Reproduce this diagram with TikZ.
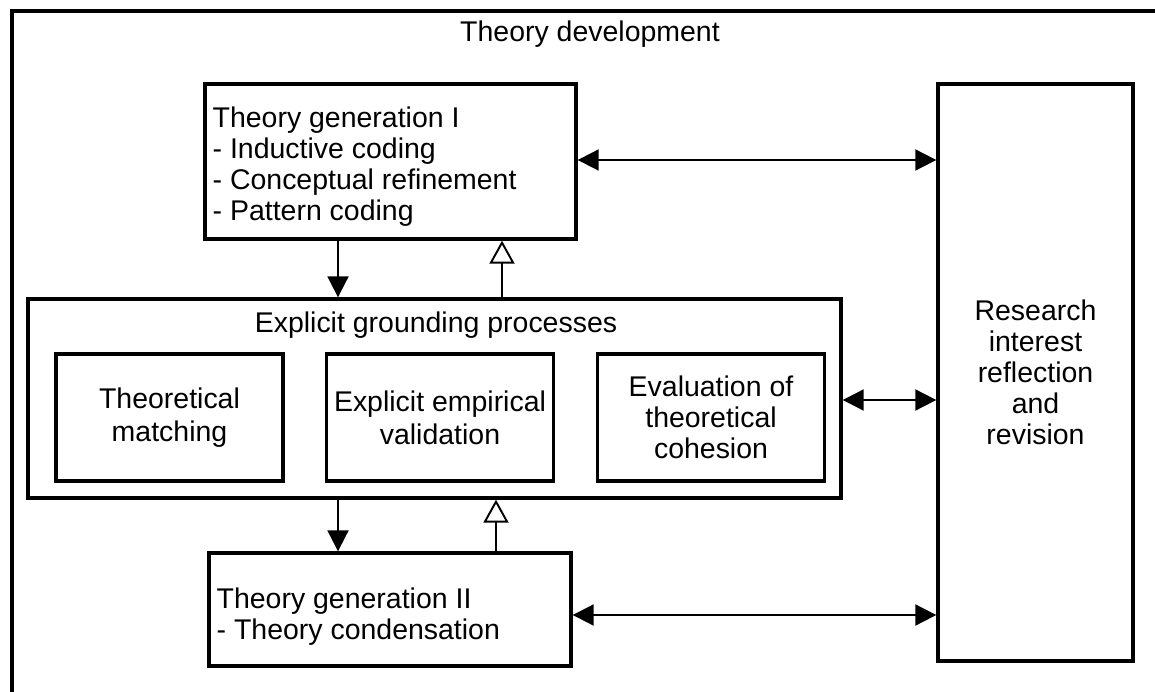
\documentclass[tikz,border=0pt]{standalone}
\usepackage{fontspec}
\setmainfont{Liberation Sans}
\usetikzlibrary{arrows.meta}

\tikzset{
    box/.style      = {draw, line width=1.9pt, minimum width=4.54cm, minimum height=2.54cm, align=center, inner sep=0pt},
    frame/.style    = {draw, line width=1.9pt, inner sep=0pt},
    gentext/.style  = {anchor=west, align=left, inner xsep=0.18cm, inner ysep=0pt},
    flow/.style     = {line width=1.1pt, -{Triangle[length=0.42cm, width=0.42cm]}},
    back/.style     = {line width=1.1pt, -{Triangle[open, length=0.46cm, width=0.5cm]}},
    link/.style     = {line width=1.1pt, {Triangle[length=0.42cm, width=0.42cm]}-{Triangle[length=0.42cm, width=0.42cm]}}
}

\begin{document}
\begin{tikzpicture}[font=\fontsize{16.2}{17.6}\selectfont]
            \useasboundingbox (0,0) rectangle (23.1,-13.84);
            % Outer frame
            \draw[line width=1.9pt] (0.24,-14.2) -- (0.24,-0.22) -- (23.5,-0.22);
            \node (title) at (11.8,-0.68) {Theory development};
            % Theory generation I
            \node[frame, minimum width=7.42cm, minimum height=3.1cm] (genI) at (7.81,-3.23) {};
            \node[gentext, yshift=-0.1cm] (genItext) at (genI.west)
                {Theory generation I\\- Inductive coding\\- Conceptual refinement\\- Pattern coding};
            % Explicit grounding processes
            \node[frame, minimum width=16.26cm, minimum height=3.98cm] (ground) at (8.69,-7.97) {};
            \node (groundlabel) at (8.72,-6.5) {Explicit grounding processes};
            \node[box] (match)    at ( 3.39,-8.35) {Theoretical\\[0.04cm]matching};
            \node[box] (valid)    at ( 8.80,-8.35) {Explicit empirical\\[0.04cm]validation};
            \node[box] (cohesion) at (14.22,-8.35) {Evaluation of\\theoretical\\cohesion};
            % Theory generation II
            \node[frame, minimum width=7.24cm, minimum height=2.26cm] (genII) at (7.80,-12.19) {};
            \node[gentext, yshift=-0.14cm] (genIItext) at (genII.west)
                {Theory generation II\\- Theory condensation};
            % Research interest
            \node[frame, minimum width=3.9cm, minimum height=11.54cm, align=center] (research) at (20.71,-7.45)
                {Research\\interest\\reflection\\and\\revision};
            % Columns of the vertical arrows
            \coordinate (down) at (6.76,0);
            \coordinate (upA)  at (10.04,0);
            \coordinate (upB)  at (9.92,0);
            \draw[flow] (genI.south -| down)   -- (ground.north -| down);
            \draw[back] (ground.north -| upA)  -- (genI.south -| upA);
            \draw[flow] (ground.south -| down) -- (genII.north -| down);
            \draw[back] (genII.north -| upB)   -- (ground.south -| upB);
            % Links to the research box
            \coordinate (rowA) at (0,-3.2);
            \coordinate (rowB) at (0,-8.0);
            \coordinate (rowC) at (0,-12.3);
            \draw[link] (genI.east |- rowA)   -- (research.west |- rowA);
            \draw[link] (ground.east |- rowB) -- (research.west |- rowB);
            \draw[link] (genII.east |- rowC)  -- (research.west |- rowC);
        \end{tikzpicture}
\end{document}
